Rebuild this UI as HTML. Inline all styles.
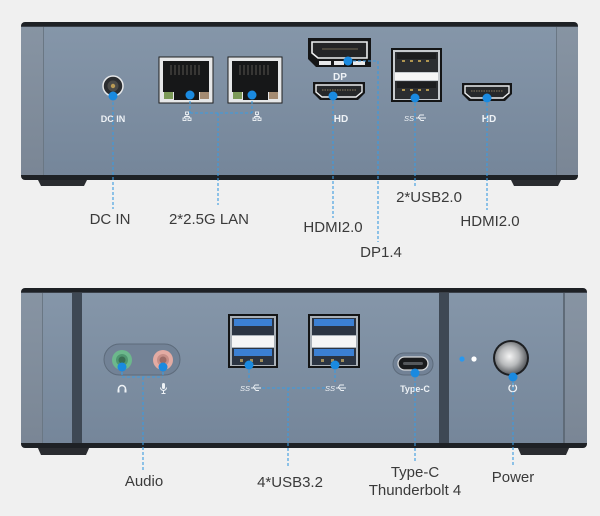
<!DOCTYPE html>
<html><head><meta charset="utf-8">
<style>
html,body{margin:0;padding:0;background:#f0f0f0;}
svg{display:block;}
</style></head>
<body>
<svg width="600" height="516" viewBox="0 0 600 516" xmlns="http://www.w3.org/2000/svg" font-family="'Liberation Sans', Arial, sans-serif">
<defs>
 <linearGradient id="face" x1="0" y1="0" x2="0" y2="1">
  <stop offset="0" stop-color="#8596a9"/>
  <stop offset="1" stop-color="#75869a"/>
 </linearGradient>
 <linearGradient id="side" x1="0" y1="0" x2="0" y2="1">
  <stop offset="0" stop-color="#8794a3"/>
  <stop offset="1" stop-color="#7a8695"/>
 </linearGradient>
 <radialGradient id="btn" cx="0.45" cy="0.45" r="0.55">
  <stop offset="0" stop-color="#f4f4f4"/>
  <stop offset="0.55" stop-color="#b8babc"/>
  <stop offset="1" stop-color="#5f6266"/>
 </radialGradient>
</defs>
<rect width="600" height="516" fill="#f0f0f0"/>

<!-- ================= TOP DEVICE ================= -->
<polygon points="37,178 88,178 84,186 41,186" fill="#2a2c30"/>
<polygon points="510,178 562,178 558,186 514,186" fill="#2a2c30"/>
<rect x="21" y="22" width="557" height="158" rx="4" fill="#1e2125"/>
<rect x="21" y="27" width="557" height="148" fill="url(#face)"/>
<rect x="21" y="27" width="22" height="148" fill="url(#side)"/>
<rect x="43" y="27" width="1" height="148" fill="#6a7784"/>
<rect x="556" y="27" width="1" height="148" fill="#6a7784"/>
<rect x="557" y="27" width="21" height="148" fill="url(#side)"/>
<rect x="21" y="26" width="557" height="1" fill="#3a4048"/>

<!-- DC jack -->
<circle cx="113" cy="86" r="10" fill="#2b2d30" stroke="#e6e8ea" stroke-width="1.5"/>
<circle cx="113" cy="86" r="5.5" fill="#4a4a48"/>
<circle cx="113" cy="86" r="2.2" fill="#b89a55"/>
<text x="113" y="122" font-size="9" font-weight="bold" fill="#eef2f6" text-anchor="middle">DC IN</text>

<!-- LAN ports -->
<g>
 <rect x="159" y="57" width="54" height="46" fill="#e6e7e8" stroke="#1f1f1f" stroke-width="1"/>
 <rect x="163" y="61" width="46" height="31" fill="#161718"/>
 <rect x="174" y="90" width="25" height="10" fill="#161718"/>
 <rect x="164" y="92" width="9" height="7" fill="#7c9a58"/>
 <rect x="200" y="92" width="9" height="7" fill="#a48b72"/>
 <g stroke="#585450" stroke-width="1">
  <line x1="171" y1="65" x2="171" y2="75"/><line x1="175" y1="65" x2="175" y2="75"/><line x1="179" y1="65" x2="179" y2="75"/><line x1="183" y1="65" x2="183" y2="75"/><line x1="187" y1="65" x2="187" y2="75"/><line x1="191" y1="65" x2="191" y2="75"/><line x1="195" y1="65" x2="195" y2="75"/><line x1="199" y1="65" x2="199" y2="75"/>
 </g>
</g>
<g transform="translate(69,0)">
 <rect x="159" y="57" width="54" height="46" fill="#e6e7e8" stroke="#1f1f1f" stroke-width="1"/>
 <rect x="163" y="61" width="46" height="31" fill="#161718"/>
 <rect x="174" y="90" width="25" height="10" fill="#161718"/>
 <rect x="164" y="92" width="9" height="7" fill="#7c9a58"/>
 <rect x="200" y="92" width="9" height="7" fill="#a48b72"/>
 <g stroke="#585450" stroke-width="1">
  <line x1="171" y1="65" x2="171" y2="75"/><line x1="175" y1="65" x2="175" y2="75"/><line x1="179" y1="65" x2="179" y2="75"/><line x1="183" y1="65" x2="183" y2="75"/><line x1="187" y1="65" x2="187" y2="75"/><line x1="191" y1="65" x2="191" y2="75"/><line x1="195" y1="65" x2="195" y2="75"/><line x1="199" y1="65" x2="199" y2="75"/>
 </g>
</g>
<!-- LAN icons -->
<g fill="none" stroke="#eef2f6" stroke-width="0.9">
 <rect x="185.5" y="112" width="3" height="2.5"/><rect x="183" y="118" width="3" height="2.5"/><rect x="188" y="118" width="3" height="2.5"/>
 <path d="M187,114.5 v2 M184.5,116.5 h5 M184.5,116.5 v1.5 M189.5,116.5 v1.5"/>
</g>
<g fill="none" stroke="#eef2f6" stroke-width="0.9" transform="translate(70,0)">
 <rect x="185.5" y="112" width="3" height="2.5"/><rect x="183" y="118" width="3" height="2.5"/><rect x="188" y="118" width="3" height="2.5"/>
 <path d="M187,114.5 v2 M184.5,116.5 h5 M184.5,116.5 v1.5 M189.5,116.5 v1.5"/>
</g>

<!-- DP port -->
<polygon points="308,38 371,38 371,67 316,67 308,59" fill="#151617"/>
<polygon points="312,42 367,42 367,58 318,58 312,53" fill="#232426" stroke="#eceeef" stroke-width="1.6"/>
<g stroke="#8a7c60" stroke-width="0.8">
 <line x1="322" y1="49" x2="358" y2="49"/>
</g>
<rect x="319" y="61" width="12" height="4" fill="#e8e9ea"/>
<rect x="334" y="61" width="10" height="4" fill="#e8e9ea"/>
<rect x="353" y="61" width="12" height="4" fill="#e8e9ea"/>
<text x="340" y="80" font-size="10" font-weight="bold" fill="#eef2f6" text-anchor="middle">DP</text>

<!-- HDMI left -->
<polygon points="313,82 365,82 365,93 358,100 320,100 313,93" fill="#151617"/>
<polygon points="316,85 362,85 362,92 356,97 322,97 316,92" fill="#26282a" stroke="#eceeef" stroke-width="1.4"/>
<line x1="322" y1="90" x2="356" y2="90" stroke="#8a7c60" stroke-width="1" stroke-dasharray="1.5 1"/>
<text x="341" y="122" font-size="10" font-weight="bold" fill="#eef2f6" text-anchor="middle">HD</text>

<!-- USB 2.0 -->
<rect x="391" y="48" width="51" height="54" fill="#141516"/>
<rect x="393" y="50" width="47" height="50" fill="#c7cbcf"/>
<rect x="395" y="52" width="43" height="20" fill="#2c2e31"/>
<rect x="397" y="53" width="39" height="6" fill="#1d1e20"/>
<g fill="#b09550"><rect x="402" y="60" width="3" height="2"/><rect x="410" y="60" width="3" height="2"/><rect x="418" y="60" width="3" height="2"/><rect x="426" y="60" width="3" height="2"/></g>
<rect x="395" y="73" width="43" height="7" fill="#f6f6f6"/>
<rect x="395" y="81" width="43" height="18" fill="#2c2e31"/>
<rect x="397" y="82" width="39" height="6" fill="#1d1e20"/>
<g fill="#b09550"><rect x="402" y="89" width="3" height="2"/><rect x="410" y="89" width="3" height="2"/><rect x="418" y="89" width="3" height="2"/><rect x="426" y="89" width="3" height="2"/></g>
<text x="404" y="121" font-size="7.5" font-style="italic" fill="#eef2f6">SS</text>
<path d="M416,118 h10 M418,118 l2,-3 h4 M419,118 l2,2.5 h3" fill="none" stroke="#eef2f6" stroke-width="0.9"/>

<!-- HDMI right -->
<polygon points="462,83 512,83 512,94 505,101 469,101 462,94" fill="#151617"/>
<polygon points="465,86 509,86 509,93 503,98 471,98 465,93" fill="#26282a" stroke="#eceeef" stroke-width="1.4"/>
<line x1="471" y1="91" x2="503" y2="91" stroke="#8a7c60" stroke-width="1" stroke-dasharray="1.5 1"/>
<text x="489" y="122" font-size="10" font-weight="bold" fill="#eef2f6" text-anchor="middle">HD</text>

<!-- connectors top -->
<g stroke="#3b9be0" stroke-width="1.1" stroke-dasharray="3 2" fill="none">
 <line x1="113" y1="97" x2="113" y2="209"/>
 <line x1="190" y1="96" x2="190" y2="113"/>
 <line x1="252" y1="96" x2="252" y2="113"/>
 <line x1="190" y1="113" x2="252" y2="113"/>
 <line x1="218" y1="113" x2="218" y2="205"/>
 <line x1="333" y1="96" x2="333" y2="218"/>
 <polyline points="348,61 378,61 378,242"/>
 <line x1="415" y1="98" x2="415" y2="188"/>
 <line x1="487" y1="98" x2="487" y2="210"/>
</g>
<g fill="#1a8ae0">
 <circle cx="113" cy="96" r="4.5"/>
 <circle cx="190" cy="95" r="4.5"/>
 <circle cx="252" cy="95" r="4.5"/>
 <circle cx="348" cy="61" r="4.5"/>
 <circle cx="333" cy="96" r="4.5"/>
 <circle cx="415" cy="98" r="4.5"/>
 <circle cx="487" cy="98" r="4.5"/>
</g>

<g font-size="15" fill="#3a3a3a" text-anchor="middle">
 <text x="110" y="224">DC IN</text>
 <text x="209" y="224">2*2.5G LAN</text>
 <text x="333" y="232">HDMI2.0</text>
 <text x="381" y="257">DP1.4</text>
 <text x="429" y="202">2*USB2.0</text>
 <text x="490" y="226">HDMI2.0</text>
</g>

<!-- ================= BOTTOM DEVICE ================= -->
<polygon points="37,446 90,446 86,455 41,455" fill="#2a2c30"/>
<polygon points="517,446 570,446 566,455 521,455" fill="#2a2c30"/>
<rect x="21" y="288" width="566" height="160" rx="4" fill="#1e2125"/>
<rect x="21" y="293" width="566" height="150" fill="url(#face)"/>
<rect x="21" y="293" width="21" height="150" fill="url(#side)"/>
<rect x="42" y="293" width="1" height="150" fill="#6a7784"/>
<rect x="72" y="293" width="10" height="150" fill="#3e4854"/>
<rect x="439" y="293" width="10" height="150" fill="#3e4854"/>
<rect x="563" y="293" width="2" height="150" fill="#5f6b78"/>
<rect x="565" y="293" width="22" height="150" fill="url(#side)"/>
<rect x="21" y="292" width="566" height="1" fill="#3a4048"/>

<!-- Audio -->
<rect x="104" y="344" width="76" height="31" rx="15.5" fill="#728296" stroke="#5d6b7b" stroke-width="1"/>
<circle cx="122" cy="360" r="10" fill="#6cb88c"/>
<circle cx="122" cy="360" r="6" fill="#4f9670"/>
<circle cx="122" cy="360" r="3.5" fill="#3a6e52"/>
<circle cx="163" cy="360" r="10" fill="#e3aba3"/>
<circle cx="163" cy="360" r="6" fill="#c68e87"/>
<circle cx="163" cy="360" r="3.5" fill="#9c6b66"/>
<path d="M118.5,392 v-3 a3.5,3.5 0 0 1 7,0 v3" fill="none" stroke="#eef2f6" stroke-width="1.5"/>
<rect x="117.5" y="389.5" width="2" height="3" fill="#eef2f6"/><rect x="124.5" y="389.5" width="2" height="3" fill="#eef2f6"/>
<rect x="162" y="383" width="3" height="6" rx="1.5" fill="#eef2f6"/>
<path d="M160.5,387.5 a3,3 0 0 0 6,0 M163.5,390.5 v3 M161.5,393.5 h4" fill="none" stroke="#eef2f6" stroke-width="1"/>

<!-- USB 3.2 -->
<g>
 <rect x="228" y="314" width="50" height="54" fill="#141516"/>
 <rect x="230" y="316" width="46" height="50" fill="#aab1b8"/>
 <rect x="232" y="318" width="42" height="17" fill="#2b3442"/>
 <rect x="234" y="319" width="38" height="7" fill="#3b80d4"/>
 <rect x="232" y="336" width="42" height="11" fill="#f5f5f5"/>
 <rect x="232" y="348" width="42" height="17" fill="#2b3442"/>
 <rect x="234" y="349" width="38" height="7" fill="#3b80d4"/>
 <g fill="#a08d5c"><rect x="240" y="359" width="3" height="3"/><rect x="250" y="359" width="3" height="3"/><rect x="260" y="359" width="3" height="3"/></g>
</g>
<g transform="translate(80,0)">
 <rect x="228" y="314" width="52" height="54" fill="#141516"/>
 <rect x="230" y="316" width="48" height="50" fill="#aab1b8"/>
 <rect x="232" y="318" width="44" height="17" fill="#2b3442"/>
 <rect x="234" y="319" width="40" height="7" fill="#3b80d4"/>
 <rect x="232" y="336" width="44" height="11" fill="#f5f5f5"/>
 <rect x="232" y="348" width="44" height="17" fill="#2b3442"/>
 <rect x="234" y="349" width="40" height="7" fill="#3b80d4"/>
 <g fill="#a08d5c"><rect x="241" y="359" width="3" height="3"/><rect x="251" y="359" width="3" height="3"/><rect x="261" y="359" width="3" height="3"/></g>
</g>
<text x="240" y="391" font-size="7.5" font-style="italic" fill="#eef2f6">SS</text>
<path d="M251,388 h10 M253,388 l2,-3 h4 M254,388 l2,2.5 h3" fill="none" stroke="#eef2f6" stroke-width="0.9"/>
<text x="325" y="391" font-size="7.5" font-style="italic" fill="#eef2f6">SS</text>
<path d="M336,388 h10 M338,388 l2,-3 h4 M339,388 l2,2.5 h3" fill="none" stroke="#eef2f6" stroke-width="0.9"/>

<!-- Type-C -->
<rect x="393" y="353" width="40" height="22" rx="11" fill="#728296" stroke="#5d6b7b" stroke-width="1"/>
<rect x="398" y="357" width="30" height="13" rx="6.5" fill="#1a1b1d" stroke="#d8dadc" stroke-width="1.3"/>
<rect x="403" y="362" width="20" height="3" rx="1.5" fill="#55585c"/>
<text x="415" y="392" font-size="9" font-weight="bold" fill="#eef2f6" text-anchor="middle">Type-C</text>

<!-- LEDs -->
<circle cx="462" cy="359" r="2.6" fill="#2a98ee"/>
<circle cx="474" cy="359" r="2.6" fill="#ffffff"/>

<!-- Power -->
<circle cx="511" cy="358" r="18" fill="#1d1f22"/>
<circle cx="511" cy="358" r="16" fill="url(#btn)"/>
<path d="M510.5,385 a3.8,3.8 0 1 0 4.5,0" fill="none" stroke="#eef2f6" stroke-width="1.3"/>
<line x1="513" y1="383" x2="513" y2="388.5" stroke="#eef2f6" stroke-width="1.3"/>

<!-- connectors bottom -->
<g stroke="#3b9be0" stroke-width="1.1" stroke-dasharray="3 2" fill="none">
 <line x1="122" y1="367" x2="122" y2="377"/>
 <line x1="163" y1="367" x2="163" y2="377"/>
 <line x1="122" y1="377" x2="163" y2="377"/>
 <line x1="143" y1="377" x2="143" y2="472"/>
 <line x1="249" y1="365" x2="249" y2="382"/>
 <line x1="335" y1="365" x2="335" y2="382"/>
 <line x1="262" y1="388" x2="325" y2="388"/>
 <line x1="288" y1="388" x2="288" y2="467"/>
 <line x1="415" y1="373" x2="415" y2="463"/>
 <line x1="513" y1="377" x2="513" y2="465"/>
</g>
<g fill="#1a8ae0">
 <circle cx="122" cy="367" r="4.5"/>
 <circle cx="163" cy="367" r="4.5"/>
 <circle cx="249" cy="365" r="4.5"/>
 <circle cx="335" cy="365" r="4.5"/>
 <circle cx="415" cy="373" r="4.5"/>
 <circle cx="513" cy="377" r="4.5"/>
</g>

<g font-size="15" fill="#3a3a3a" text-anchor="middle">
 <text x="144" y="486">Audio</text>
 <text x="290" y="487">4*USB3.2</text>
 <text x="415" y="477">Type-C</text>
 <text x="415" y="495">Thunderbolt 4</text>
 <text x="513" y="482">Power</text>
</g>
</svg>
</body></html>
